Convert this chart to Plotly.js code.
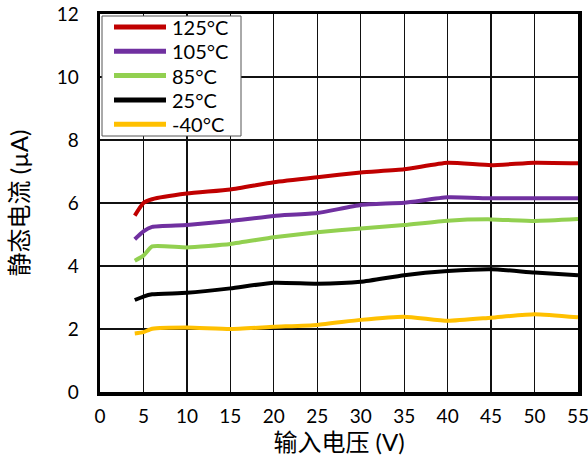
<!DOCTYPE html>
<html>
<head>
<meta charset="utf-8">
<script src="https://cdn.plot.ly/plotly-3.0.1.min.js"></script>
<style>
  html, body { margin: 0; padding: 0; background: #fff; }
  #chart { width: 588px; height: 457px; }
</style>
</head>
<body>
<div id="chart"></div>
<script>
// Input voltage (V)
const vin = [4, 5, 6, 10, 15, 20, 25, 30, 35, 40, 45, 50, 55];

// Quiescent current (µA) at each temperature
const iq125 = [5.60, 6.00, 6.12, 6.30, 6.43, 6.66, 6.82, 6.97, 7.07, 7.28, 7.20, 7.28, 7.26];
const iq105 = [4.85, 5.10, 5.24, 5.30, 5.43, 5.59, 5.68, 5.94, 6.01, 6.18, 6.15, 6.15, 6.15];
const iq85  = [4.17, 4.33, 4.62, 4.59, 4.70, 4.91, 5.07, 5.19, 5.30, 5.44, 5.48, 5.43, 5.49];
const iq25  = [2.92, 3.03, 3.10, 3.15, 3.29, 3.47, 3.44, 3.50, 3.71, 3.84, 3.90, 3.79, 3.71];
const iqm40 = [1.86, 1.90, 2.01, 2.05, 2.00, 2.07, 2.13, 2.29, 2.39, 2.26, 2.36, 2.47, 2.37];

const seriesNames = ['125°C', '105°C', '85°C', '25°C', '-40°C'];
const seriesData = [iq125, iq105, iq85, iq25, iqm40];
const seriesColors = ['#C00000', '#7030A0', '#92D050', '#000000', '#FFC000'];

const xTitle = '输入电压 (V)';
const yTitle = '静态电流 (µA)';

const font = 'Lato, "Noto Sans CJK SC", sans-serif';

const traces = seriesData.map((ys, i) => ({
  x: vin,
  y: ys,
  name: seriesNames[i],
  type: 'scatter',
  mode: 'lines',
  line: { color: seriesColors[i], width: 4, shape: 'spline', smoothing: 0.5 }
}));

// Plot area size in pixels, used to place the legend box in paper units
const W = 588, H = 457;
const M = { l: 100, r: 10, t: 14, b: 65 };
const pw = W - M.l - M.r, ph = H - M.t - M.b;
const px = v => v / pw;            // horizontal pixels -> paper
const py = v => 1 - v / ph;        // pixels down from top -> paper

// Legend box with a short line sample and a label per series
const legendBox = { left: 2, right: 141, top: 2, bottom: 122 };
const legendRow0 = 13, legendRowStep = 24.3;
const shapes = [{
  type: 'rect', xref: 'paper', yref: 'paper', layer: 'above',
  x0: px(legendBox.left), x1: px(legendBox.right),
  y0: py(legendBox.bottom), y1: py(legendBox.top),
  fillcolor: '#ffffff', line: { color: '#555555', width: 1 }
}];
const annotations = [];
seriesNames.forEach((name, i) => {
  const yy = py(legendRow0 + legendRowStep * i);
  shapes.push({
    type: 'line', xref: 'paper', yref: 'paper', layer: 'above',
    x0: px(14), x1: px(66), y0: yy, y1: yy,
    line: { color: seriesColors[i], width: 5 }
  });
  annotations.push({
    xref: 'paper', yref: 'paper', x: px(70), y: yy,
    xanchor: 'left', yanchor: 'middle', showarrow: false,
    text: name, font: { family: font, size: 20, color: '#000' }
  });
});

const layout = {
  width: W,
  height: H,
  margin: M,
  paper_bgcolor: '#ffffff',
  plot_bgcolor: '#ffffff',
  font: { family: font, size: 18, color: '#000' },
  showlegend: false,
  shapes: shapes,
  annotations: annotations,
  xaxis: {
    range: [0, 55], dtick: 5, tick0: 0,
    showgrid: true, gridcolor: '#111111', gridwidth: 1.3,
    showline: true, linecolor: '#000', linewidth: 3.5, mirror: true,
    zeroline: false, ticks: '', ticklabelstandoff: 5,
    ticklabeloverflow: 'allow',
    tickfont: { family: font, size: 19, color: '#000' },
    title: { text: xTitle, font: { family: font, size: 24, color: '#000' }, standoff: 2 }
  },
  yaxis: {
    range: [0, 12], dtick: 2, tick0: 0,
    showgrid: true, gridcolor: '#111111', gridwidth: 1.3,
    showline: true, linecolor: '#000', linewidth: 3.5, mirror: true,
    zeroline: false, ticks: '', ticklabelstandoff: 14,
    tickfont: { family: font, size: 19, color: '#000' },
    title: { text: yTitle, font: { family: font, size: 24, color: '#000' }, standoff: 22 }
  }
};

Plotly.newPlot('chart', traces, layout, { displayModeBar: false, staticPlot: true });
</script>
</body>
</html>
